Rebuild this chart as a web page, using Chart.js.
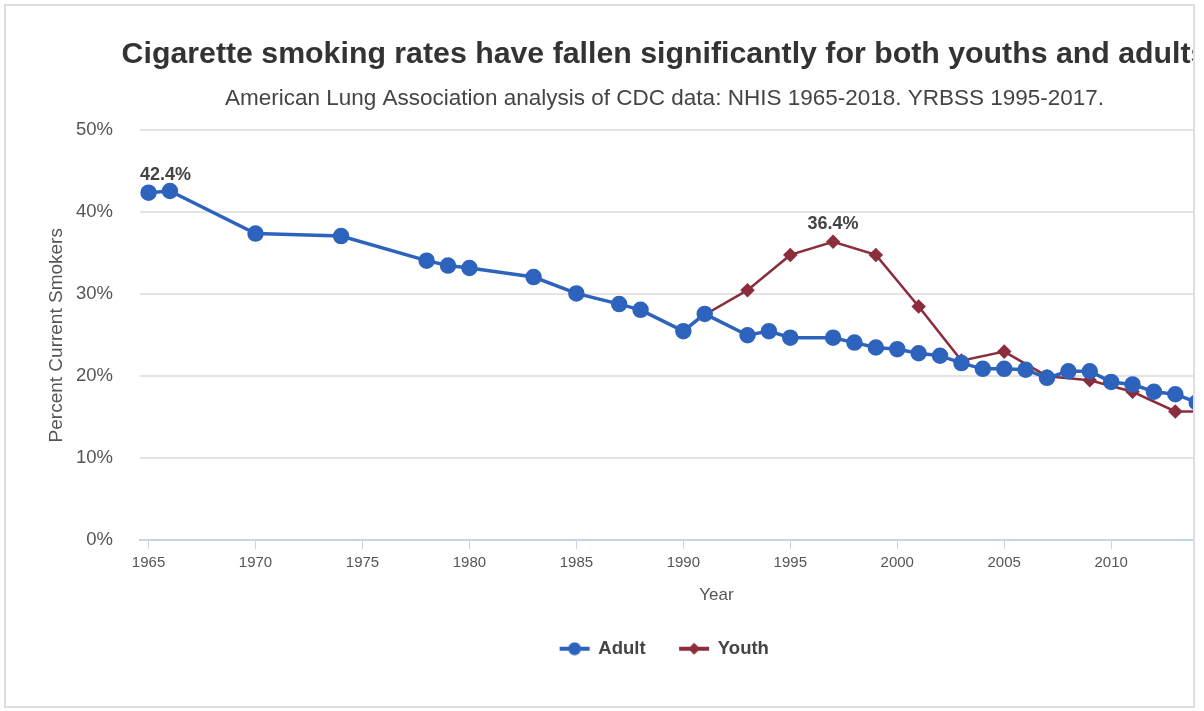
<!DOCTYPE html>
<html lang="en">
<head>
<meta charset="UTF-8">
<title>Cigarette smoking rates</title>
<script src="https://cdn.jsdelivr.net/npm/chart.js"></script>
<style>
  html, body {
    margin: 0;
    padding: 0;
    background: #fff;
    overflow: hidden;
  }
  .frame {
    position: absolute;
    left: 4px;
    top: 4px;
    width: 1191px;
    height: 704px;
    box-sizing: border-box;
    border: 2px solid #dedede;
    overflow: hidden;
  }
  .box {
    position: absolute;
    left: 0;
    top: 0;
    width: 1322px;
    height: 700px;
  }
</style>
</head>
<body>
<div class="frame">
  <div class="box"><canvas id="smokeChart"></canvas></div>
</div>
<script>
// adult (NHIS)
const adultYears = [1965, 1966, 1970, 1974, 1978, 1979, 1980, 1983, 1985, 1987, 1988, 1990, 1991, 1993, 1994, 1995, 1997, 1998, 1999, 2000, 2001, 2002, 2003, 2004, 2005, 2006, 2007, 2008, 2009, 2010, 2011, 2012, 2013, 2014, 2015];
const adultRates = [42.4, 42.6, 37.4, 37.1, 34.1, 33.5, 33.2, 32.1, 30.1, 28.8, 28.1, 25.5, 27.6, 25.0, 25.5, 24.7, 24.7, 24.1, 23.5, 23.3, 22.8, 22.5, 21.6, 20.9, 20.9, 20.8, 19.8, 20.6, 20.6, 19.3, 19.0, 18.1, 17.8, 16.8, 15.1];

// youth (YRBSS)
const youthYears = [1991, 1993, 1995, 1997, 1999, 2001, 2003, 2005, 2007, 2009, 2011, 2013, 2015];
const youthRates = [27.5, 30.5, 34.8, 36.4, 34.8, 28.5, 21.9, 23.0, 20.0, 19.5, 18.1, 15.7, 15.7];

const xTicks = [1965, 1970, 1975, 1980, 1985, 1990, 1995, 2000, 2005, 2010, 2015];
const yTicks = [0, 10, 20, 30, 40, 50];

// which points get a value label
const labelled = [{ series: 0, year: 1965 }, { series: 1, year: 1997 }];

const BLUE = '#2e63bd';
const RED = '#8b2d3c';
const FONT = "'Liberation Sans', Arial, sans-serif";

function legendIcon(color, style) {
  const c = document.createElement('canvas');
  c.width = 32;
  c.height = 14;
  const g = c.getContext('2d');
  g.strokeStyle = color;
  g.fillStyle = color;
  g.lineWidth = 4;
  g.beginPath();
  g.moveTo(1, 7);
  g.lineTo(31, 7);
  g.stroke();
  g.beginPath();
  if (style === 'circle') {
    g.arc(16, 7, 6.5, 0, Math.PI * 2);
  } else {
    g.moveTo(16, 1);
    g.lineTo(22, 7);
    g.lineTo(16, 13);
    g.lineTo(10, 7);
    g.closePath();
  }
  g.fill();
  return c;
}

// value labels above chosen points, kept inside the plot area
const valueLabels = {
  id: 'valueLabels',
  afterDatasetsDraw(chart) {
    const ctx = chart.ctx;
    const area = chart.chartArea;
    ctx.save();
    ctx.font = 'bold 18px ' + FONT;
    ctx.fillStyle = '#444';
    ctx.textAlign = 'left';
    ctx.textBaseline = 'bottom';
    labelled.forEach(l => {
      const ds = chart.data.datasets[l.series];
      const idx = ds.data.findIndex(p => p.x === l.year);
      const pt = chart.getDatasetMeta(l.series).data[idx];
      const txt = ds.data[idx].y.toFixed(1) + '%';
      const w = ctx.measureText(txt).width;
      const left = Math.max(area.left, pt.x - w / 2);
      ctx.fillText(txt, left, pt.y - 9);
    });
    ctx.restore();
  }
};

const ctx = document.getElementById('smokeChart').getContext('2d');
new Chart(ctx, {
  type: 'line',
  data: {
    datasets: [
      {
        label: 'Adult',
        data: adultYears.map((y, i) => ({ x: y, y: adultRates[i] })),
        borderColor: BLUE,
        backgroundColor: BLUE,
        borderWidth: 3.5,
        pointRadius: 6.5,
        pointHoverRadius: 6.5,
        pointStyle: 'circle',
        legendIcon: legendIcon(BLUE, 'circle')
      },
      {
        label: 'Youth',
        data: youthYears.map((y, i) => ({ x: y, y: youthRates[i] })),
        borderColor: RED,
        backgroundColor: RED,
        borderWidth: 2.5,
        pointRadius: 5.5,
        pointHoverRadius: 5.5,
        pointStyle: 'rectRot',
        legendIcon: legendIcon(RED, 'diamond')
      }
    ]
  },
  options: {
    responsive: true,
    maintainAspectRatio: false,
    animation: false,
    layout: {
      padding: { top: 30, left: 30, right: 35, bottom: 38 }
    },
    scales: {
      x: {
        type: 'linear',
        min: 1964.6,
        max: 2018.5,
        afterBuildTicks(scale) {
          scale.ticks = xTicks.map(v => ({ value: v }));
        },
        border: { color: '#c6d3ea', width: 2 },
        grid: {
          drawOnChartArea: false,
          drawTicks: true,
          tickLength: 9,
          color: '#c6d3ea',
          lineWidth: 1
        },
        ticks: {
          color: '#555',
          font: { family: FONT, size: 15 },
          padding: 5,
          maxRotation: 0,
          callback: v => String(v)
        },
        title: {
          display: true,
          text: 'Year',
          color: '#555',
          font: { family: FONT, size: 17 },
          padding: { top: 8, bottom: 0 }
        }
      },
      y: {
        min: 0,
        max: 50,
        afterBuildTicks(scale) {
          scale.ticks = yTicks.map(v => ({ value: v }));
        },
        afterFit(scale) {
          scale.width = 104;
        },
        border: { display: false },
        grid: {
          color: '#e4e4e4',
          lineWidth: 2,
          drawTicks: false
        },
        ticks: {
          color: '#555',
          font: { family: FONT, size: 18.5 },
          padding: 27,
          callback: v => v + '%'
        },
        title: {
          display: true,
          text: 'Percent Current Smokers',
          color: '#555',
          font: { family: FONT, size: 19 },
          padding: { top: 9, bottom: 0 }
        }
      }
    },
    plugins: {
      title: {
        display: true,
        text: 'Cigarette smoking rates have fallen significantly for both youths and adults',
        color: '#333',
        font: { family: FONT, size: 30.3, weight: 'bold' },
        padding: { top: 0, bottom: 8 }
      },
      subtitle: {
        display: true,
        text: 'American Lung Association analysis of CDC data: NHIS 1965-2018. YRBSS 1995-2017.',
        color: '#444',
        font: { family: FONT, size: 22.5 },
        padding: { top: 5, bottom: 18 }
      },
      legend: {
        display: true,
        position: 'bottom',
        labels: {
          usePointStyle: true,
          pointStyleWidth: 29,
          boxHeight: 14,
          padding: 34,
          color: '#444',
          font: { family: FONT, size: 18.5, weight: 'bold' },
          generateLabels(chart) {
            return chart.data.datasets.map((ds, i) => ({
              text: ds.label,
              pointStyle: ds.legendIcon,
              fillStyle: ds.borderColor,
              strokeStyle: ds.borderColor,
              lineWidth: 0,
              fontColor: '#444',
              datasetIndex: i,
              hidden: false
            }));
          }
        }
      },
      tooltip: { enabled: false }
    }
  },
  plugins: [valueLabels]
});
</script>
</body>
</html>
